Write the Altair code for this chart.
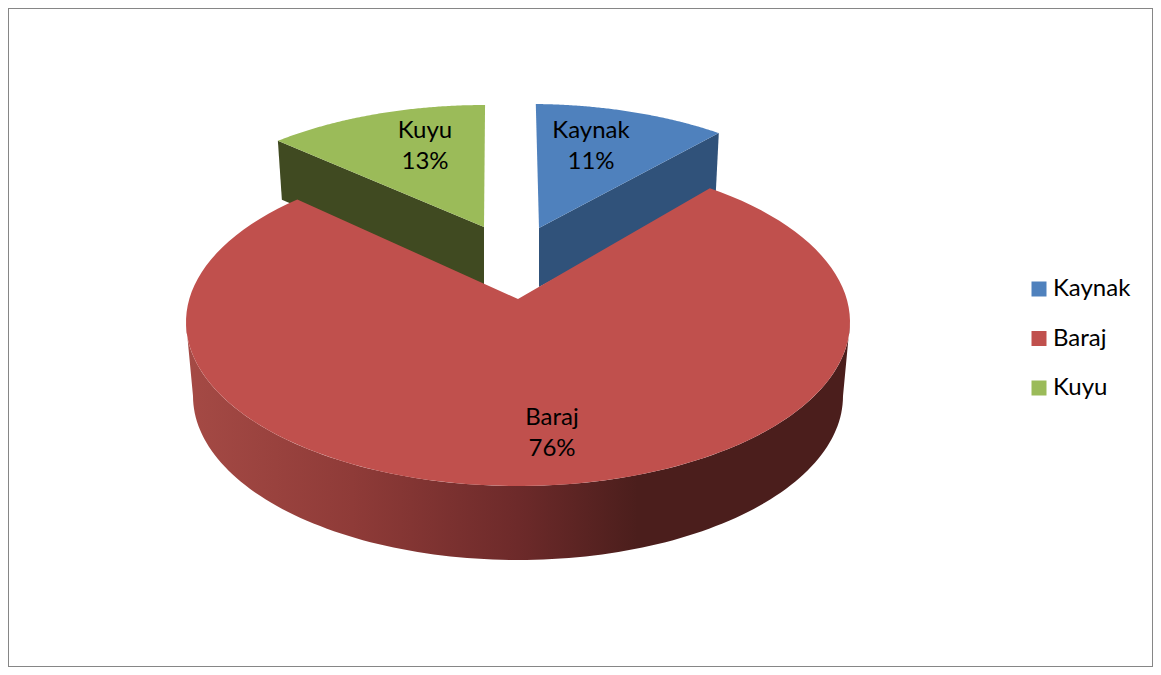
import math
import altair as alt
import pandas as pd

# --- chart values ---
CATEGORIES = ["Kaynak", "Baraj", "Kuyu"]
SHARES = [11, 76, 13]
TOP_COLORS = ["#4f81bd", "#c0504d", "#9bbb59"]

# --- drawing geometry of the tilted, exploded pie ---
RX, RY = 332, 164
TILTED = {
    "Kaynak": dict(c=(530, 268), apex=(539, 228), start=1.0, foreshorten=0.85,
                   wall="#30527a", depth=59, inset=-3),
    "Kuyu": dict(c=(485, 269), apex=(484, 227), start=-38.6, foreshorten=0.825,
                 wall="#404a21", depth=59, inset=4),
    "Baraj": dict(c=(518, 322), apex=(518, 299), start=35.3, foreshorten=1.0345),
}
LABEL_AT = {"Kaynak": (591, 131), "Baraj": (552, 418), "Kuyu": (425, 131)}
FONT = "Lato"
FONT_SIZE = 24

share = dict(zip(CATEGORIES, SHARES))


def rim(cx, cy, rx, ry, t0, t1, n=120):
    pts = []
    for k in range(n + 1):
        t = math.radians(t0 + (t1 - t0) * k / n)
        pts.append((cx + rx * math.sin(t), cy - ry * math.cos(t)))
    return pts


def outline(pts):
    pts = list(pts) + [pts[0]]
    return pd.DataFrame({"x": [p[0] for p in pts], "y": [p[1] for p in pts], "i": range(len(pts))})


X = alt.X("x:Q", scale=alt.Scale(domain=[8, 1153], nice=False, zero=False), axis=None)
Y = alt.Y("y:Q", scale=alt.Scale(domain=[667, 8], nice=False, zero=False), axis=None)


def surface(pts, fill):
    return alt.Chart(outline(pts)).mark_line(
        filled=True, fill=fill, strokeWidth=0, stroke=None, clip=False
    ).encode(x=X, y=Y, order="i:Q")


def top_points(name):
    g = TILTED[name]
    span = 3.6 * share[name] * g["foreshorten"]
    return [g["apex"]] + rim(*g["c"], RX, RY, g["start"], g["start"] + span)


layers = []
for name in ["Kuyu", "Kaynak"]:
    g = TILTED[name]
    top = top_points(name)
    outer = top[-1] if name == "Kaynak" else top[1]
    apex = g["apex"]
    d, ins = g["depth"], g["inset"]
    wall = [apex, outer, (outer[0] + ins, outer[1] + d), (apex[0], apex[1] + d)]
    layers.append(surface(wall, g["wall"]))
    layers.append(surface(top, TOP_COLORS[CATEGORIES.index(name)]))

# Baraj side wall, with its left-to-right shading
side_fill = alt.Gradient(
    gradient="linear", x1=0, y1=0, x2=1, y2=0,
    stops=[
        alt.GradientStop(offset=0.0, color="#a54a45"),
        alt.GradientStop(offset=0.25, color="#8f3b38"),
        alt.GradientStop(offset=0.5, color="#6d2a2a"),
        alt.GradientStop(offset=0.68, color="#4b1e1c"),
        alt.GradientStop(offset=1.0, color="#4b1e1c"),
    ],
)
cx, cy = TILTED["Baraj"]["c"]
wall_pts = rim(cx, cy, RX, RY, 90, 270) + rim(cx, 396, 325, 164, 270, 90)
layers.append(surface(wall_pts, side_fill))
layers.append(surface(top_points("Baraj"), TOP_COLORS[1]))

# real legend, driven by the category scale
legend_df = pd.DataFrame({"cat": CATEGORIES, "x": [8] * 3, "y": [8] * 3})
layers.append(
    alt.Chart(legend_df).mark_square(size=0, opacity=1).encode(
        x=X, y=Y,
        color=alt.Color(
            "cat:N",
            scale=alt.Scale(domain=CATEGORIES, range=TOP_COLORS),
            legend=alt.Legend(
                title=None, orient="none", legendX=1019, legendY=269,
                symbolType="square", symbolSize=225, symbolStrokeWidth=0,
                labelFont=FONT, labelFontSize=FONT_SIZE, labelColor="#000000",
                labelOffset=2, rowPadding=25.5, symbolOpacity=1, padding=0,
            ),
        ),
    )
)

# data labels
labels = pd.DataFrame({
    "x": [LABEL_AT[c][0] for c in CATEGORIES],
    "y": [LABEL_AT[c][1] for c in CATEGORIES],
    "t": [f"{c}\n{v}%" for c, v in zip(CATEGORIES, SHARES)],
})
layers.append(
    alt.Chart(labels).mark_text(
        font=FONT, fontSize=FONT_SIZE, color="#000000", lineBreak="\n",
        lineHeight=31, align="center", baseline="middle",
    ).encode(x=X, y=Y, text="t:N")
)

chart = (
    alt.layer(*layers)
    .properties(width=1145, height=659, padding=0, background="#ffffff")
    .configure_view(stroke="#868686", strokeWidth=2, fill="#ffffff")
)
chart.save("out.html", embed_options={"renderer": "svg", "actions": False})
